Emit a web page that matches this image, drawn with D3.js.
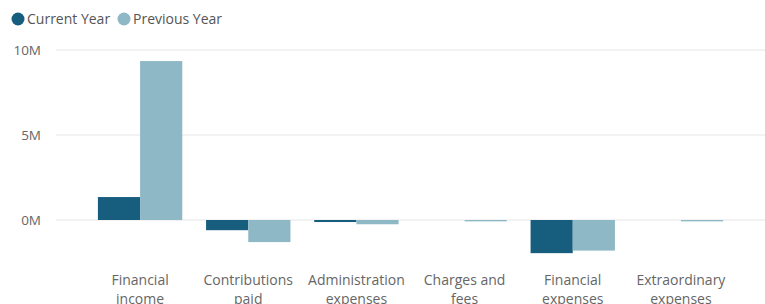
<!DOCTYPE html>
<html>
<head>
<meta charset="utf-8">
<script src="https://cdn.jsdelivr.net/npm/d3@7"></script>
<style>
  body { margin: 0; background: #fff; }
  text { font-family: "Open Sans", "Noto Sans", sans-serif; }
</style>
</head>
<body>
<div id="chart"></div>
<script>
const categories = ["Financial income", "Contributions paid", "Administration expenses",
  "Charges and fees", "Financial expenses", "Extraordinary expenses"];
const labelLines = [["Financial", "income"], ["Contributions", "paid"], ["Administration", "expenses"],
  ["Charges and", "fees"], ["Financial", "expenses"], ["Extraordinary", "expenses"]];
const seriesNames = ["Current Year", "Previous Year"];
const currentYear = [1.35e6, -0.6e6, -0.12e6, 0, -1.95e6, 0];
const previousYear = [9.35e6, -1.3e6, -0.25e6, -0.08e6, -1.8e6, -0.08e6];
const tickValues = [0, 5e6, 10e6];
const colors = ["#175e7e", "#8fb8c6"];

const width = 765, height = 304;
const svg = d3.select("#chart").append("svg")
  .attr("width", width).attr("height", height);

const x = d3.scaleBand().domain(categories).range([86, 735]).paddingInner(0.22).paddingOuter(0.11);
const xs = d3.scaleBand().domain(seriesNames).range([0, x.bandwidth()]);
const y = d3.scaleLinear().domain([0, 10e6]).range([220, 50]);

// gridlines
svg.append("g").selectAll("line").data(tickValues).join("line")
  .attr("x1", 56).attr("x2", width)
  .attr("y1", d => y(d)).attr("y2", d => y(d))
  .attr("stroke", "#e6e6e6").attr("stroke-width", 1);

// y axis labels
svg.append("g").selectAll("text").data(tickValues).join("text")
  .attr("x", 41).attr("y", d => y(d)).attr("dy", "0.35em")
  .attr("text-anchor", "end").attr("font-size", 13.5).attr("fill", "#666")
  .text(d => (d / 1e6) + "M");

const rows = categories.map((c, i) => ({ c, vals: [currentYear[i], previousYear[i]] }));

const grp = svg.append("g").selectAll("g").data(rows).join("g")
  .attr("transform", d => `translate(${x(d.c)},0)`);

grp.selectAll("rect").data(d => d.vals.map((v, k) => ({ v, k })))
  .join("rect")
  .attr("x", d => xs(seriesNames[d.k]))
  .attr("width", xs.bandwidth())
  .attr("y", d => Math.min(y(d.v), y(0)))
  .attr("height", d => Math.abs(y(d.v) - y(0)))
  .attr("fill", d => colors[d.k]);

// category labels (second line runs past the bottom edge, as in the original)
const lab = svg.append("g").selectAll("text").data(categories).join("text")
  .attr("x", d => x(d) + x.bandwidth() / 2)
  .attr("y", 285)
  .attr("text-anchor", "middle").attr("font-size", 14).attr("fill", "#666");
lab.selectAll("tspan").data((d, i) => labelLines[i]).join("tspan")
  .attr("x", function () { return this.parentNode.getAttribute("x"); })
  .attr("dy", (d, i) => i === 0 ? 0 : 19)
  .text(d => d);

// legend
const legendX = [18, 124];
const leg = svg.append("g").selectAll("g").data(seriesNames).join("g")
  .attr("transform", (d, i) => `translate(${legendX[i]},19)`);
leg.append("circle").attr("r", 6.5).attr("fill", (d, i) => colors[i]);
leg.append("text").attr("x", 9).attr("dy", "0.35em")
  .attr("font-size", 14).attr("fill", "#555").text(d => d);
</script>
</body>
</html>
